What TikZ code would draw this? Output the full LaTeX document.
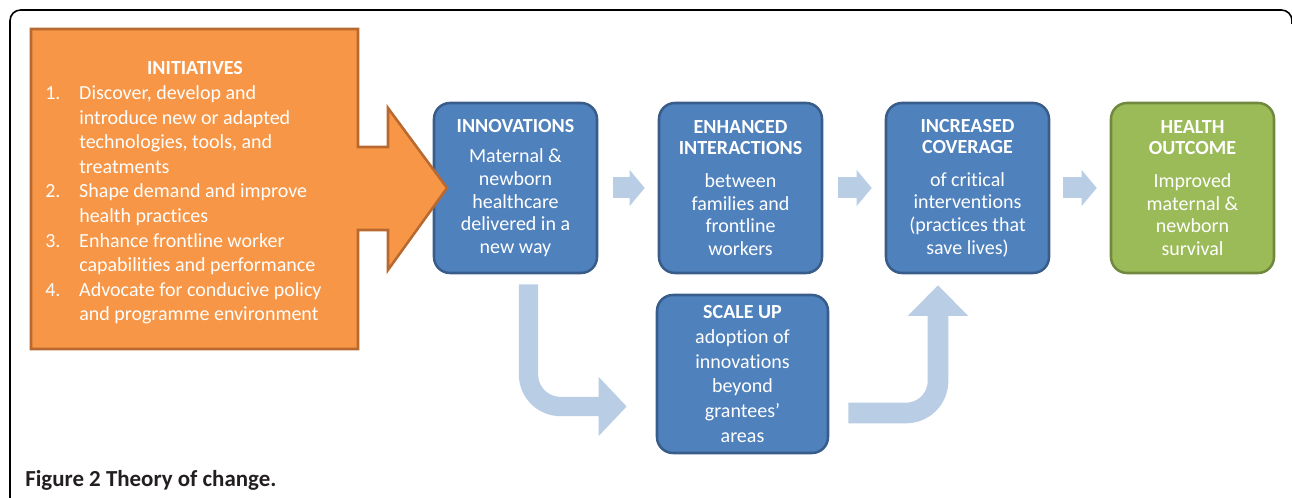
\documentclass[tikz,border=0pt]{standalone}
\usepackage{fontspec}
\setmainfont[Ligatures=NoCommon]{Carlito}
\usetikzlibrary{arrows.meta,calc}
\definecolor{orfill}{HTML}{F79646}
\definecolor{ordraw}{HTML}{B8692F}
\definecolor{blfill}{HTML}{4F81BD}
\definecolor{bldraw}{HTML}{385D8A}
\definecolor{grfill}{HTML}{9BBB59}
\definecolor{grdraw}{HTML}{71893F}
\definecolor{ltarrow}{HTML}{B9CDE5}
\definecolor{capcol}{HTML}{231F20}
\begin{document}
\begin{tikzpicture}[x=0.75pt,y=-0.75pt,
  box/.style={draw=bldraw, fill=blfill, line width=1.9pt, rounded corners=12pt,
    text=white, align=center, inner sep=0pt, minimum width=122.25pt,
    minimum height=127.5pt, font=\fontsize{15}{17}\selectfont},
  greenbox/.style={box, draw=grdraw, fill=grfill},
  smallarr/.style={draw=ltarrow, line width=15.75pt,
    -{Triangle[width=26.25pt,length=11.25pt]},
    shorten <=11.25pt, shorten >=9.75pt},
  bentarr/.style={draw=ltarrow, line width=14.5pt, rounded corners=24pt,
    -{Triangle[width=43pt,length=21pt]}},
  orangearrow/.style={fill=orfill, draw=ordraw, line width=1.9pt},
  inittext/.style={text=white, inner sep=0pt}]
\useasboundingbox (0,0) rectangle (1292,498);

% frame
\draw[line width=1.2pt, rounded corners=8pt] (10,498) -- (10,10) -- (1292,10) -- (1292,24);

% boxes
\node[box] (innov) at (515.5,188)
  {\textbf{INNOVATIONS}\\[6pt] Maternal \&\\ newborn\\ healthcare\\ delivered in a\\ new way};
\node[box] (enh) at (740.5,188)
  {\textbf{ENHANCED}\\[-1.25pt]\textbf{INTERACTIONS}\\[7.75pt] between\\ families and\\ frontline\\ workers};
\node[box] (cov) at (967.5,188)
  {\textbf{INCREASED}\\[-1.25pt]\textbf{COVERAGE}\\[7.75pt] of critical\\ interventions\\ (practices that\\ save lives)};
\node[greenbox] (out) at (1192.5,188)
  {\textbf{HEALTH}\\[-1.25pt]\textbf{OUTCOME}\\[7.75pt] Improved\\ maternal \&\\ newborn\\ survival};
\node[box, minimum width=128.25pt, minimum height=118.5pt,
  font=\fontsize{15}{18.5}\selectfont] (scale) at (742.5,374)
  {\textbf{SCALE UP}\\ adoption of\\ innovations\\ beyond\\ grantees’\\ areas};

% initiatives block arrow
\draw[orangearrow] (31,29) -- (358,29) -- (358,147) -- (388,147) -- (388,108)
  -- (447,188) -- (388,270) -- (388,230) -- (358,230) -- (358,349) -- (31,349) -- cycle;
\node[inittext, font=\bfseries\fontsize{15}{18}\selectfont] (inith) at (195,68) {INITIATIVES};
\node[inittext, align=left, anchor=west, font=\fontsize{15}{18.4}\selectfont] (initl) at (45,205)
  {\makebox[25.5pt][l]{1.}Discover, develop and\\
   \hspace*{25.5pt}introduce new or adapted\\
   \hspace*{25.5pt}technologies, tools, and\\
   \hspace*{25.5pt}treatments\\
   \makebox[25.5pt][l]{2.}Shape demand and improve\\
   \hspace*{25.5pt}health practices\\
   \makebox[25.5pt][l]{3.}Enhance frontline worker\\
   \hspace*{25.5pt}capabilities and performance\\
   \makebox[25.5pt][l]{4.}Advocate for conducive policy\\
   \hspace*{25.5pt}and programme environment};

% connectors
\draw[smallarr] (innov.east) -- (enh.west);
\draw[smallarr] (enh.east) -- (cov.west);
\draw[smallarr, shorten <=9.75pt] (cov.east) -- (out.west);

\coordinate (b1s) at ($(innov.south)+(13,10)$);
\coordinate (b1e) at ($(scale.west)+(-29,32.5)$);
\draw[bentarr] (b1s) |- (b1e);

\coordinate (b2s) at ($(scale.east)+(19,39)$);
\coordinate (b2e) at ($(cov.south)+(-29.5,11)$);
\draw[bentarr, line width=15.5pt, -{Triangle[width=44pt,length=23pt]}] (b2s) -| (b2e);

% caption
\node[anchor=base west, inner sep=0pt, text=capcol, font=\bfseries\fontsize{17.2}{20}\selectfont]
  (cap) at (25,487) {Figure 2 Theory of change.};
\end{tikzpicture}
\end{document}
